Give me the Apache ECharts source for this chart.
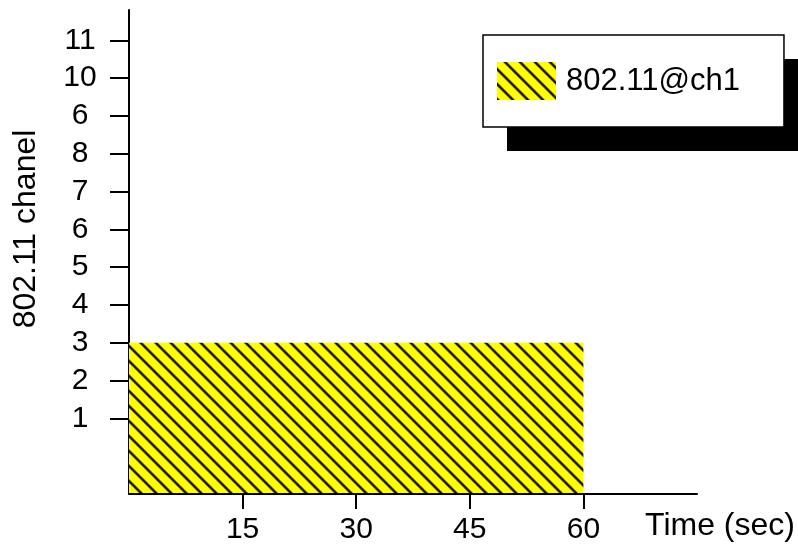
<!DOCTYPE html>
<html>
<head>
<meta charset="utf-8">
<script src="https://cdn.jsdelivr.net/npm/echarts@6/dist/echarts.min.js"></script>
<style>
  html, body { margin: 0; padding: 0; background: #fff; }
  #chart { width: 798px; height: 545px; }
</style>
</head>
<body>
<div id="chart"></div>
<script>
// Channel occupancy over time
const seriesName = '802.11@ch1';
const segStart = [0];     // seconds
const segEnd = [60];      // seconds
const segChannel = [3];   // channel level reached
const channelTicks = [1, 2, 3, 4, 5, 6, 7, 8, 9, 10, 11];
const channelLabels = ['1', '2', '3', '4', '5', '6', '7', '8', '6', '10', '11'];
const timeTicks = [15, 30, 45, 60];
const timeLabels = ['15', '30', '45', '60'];
const xTitle = 'Time (sec)';
const yTitle = '802.11 chanel';

const X_MIN = 0, X_MAX = 75;
const Y_MIN = -1, Y_MAX = 11.8;
const FONT = '"Liberation Sans", Arial, Helvetica, sans-serif';

// Yellow tile with soft black diagonal stripes
function makeHatch() {
  const n = 15;
  const c = document.createElement('canvas');
  c.width = n; c.height = n;
  const ctx = c.getContext('2d');
  const img = ctx.createImageData(n, n);
  for (let y = 0; y < n; y++) {
    for (let x = 0; x < n; x++) {
      const t = (((x - y - 8) % n) + n) % n;
      const d = Math.min(t, n - t) / Math.SQRT2;
      const a = Math.max(0, Math.min(1, (2.0 - d) / 1.5));
      const i = (y * n + x) * 4;
      img.data[i] = Math.round(255 * (1 - a) + 15 * a);
      img.data[i + 1] = Math.round(255 * (1 - a) + 15 * a);
      img.data[i + 2] = 0;
      img.data[i + 3] = 255;
    }
  }
  ctx.putImageData(img, 0, 0);
  return c;
}
const hatch = { image: makeHatch(), repeat: 'repeat' };

const chart = echarts.init(document.getElementById('chart'), null, { renderer: 'canvas' });

const option = {
  animation: false,
  grid: { left: 129, right: 101, top: 10, bottom: 51 },
  xAxis: {
    type: 'value', min: X_MIN, max: X_MAX, z: 5,
    axisLine: { show: true, onZero: false, lineStyle: { color: '#000', width: 2 } },
    axisTick: { show: true, length: 15, customValues: timeTicks, lineStyle: { color: '#000', width: 2 } },
    axisLabel: {
      customValues: timeTicks,
      formatter: v => timeLabels[timeTicks.indexOf(v)],
      margin: 21, color: '#000', fontFamily: FONT, fontSize: 30
    },
    splitLine: { show: false }
  },
  yAxis: {
    type: 'value', min: Y_MIN, max: Y_MAX,
    axisLine: { show: true, onZero: false, lineStyle: { color: '#000', width: 2 } },
    axisTick: { show: true, length: 19, customValues: channelTicks, lineStyle: { color: '#000', width: 2 } },
    axisLabel: {
      customValues: channelTicks,
      formatter: v => channelLabels[channelTicks.indexOf(v)],
      align: 'center', margin: 49, color: '#000', fontFamily: FONT, fontSize: 30
    },
    splitLine: { show: false }
  },
  legend: {
    left: 483, top: 35,
    padding: [27, 44, 27, 14],
    itemWidth: 59, itemHeight: 38, icon: 'rect',
    backgroundColor: '#fff', borderColor: '#000', borderWidth: 1.5, borderRadius: 0,
    selectedMode: false,
    textStyle: { fontSize: 31, fontFamily: FONT, color: '#000', padding: [0, 0, 0, 5] },
    itemStyle: { color: hatch },
    data: [{ name: seriesName, icon: 'rect', itemStyle: { color: hatch } }]
  },
  graphic: [
    { type: 'rect', z: 3, shape: { x: 507, y: 59, width: 300, height: 92 }, style: { fill: '#000' } },
    {
      type: 'text', x: 26, y: 229, rotation: Math.PI / 2,
      style: { text: yTitle, fontSize: 32, fontFamily: FONT, fill: '#000', align: 'center', verticalAlign: 'middle' }
    },
    {
      type: 'text', x: 720, y: 526,
      style: { text: xTitle, fontSize: 32, fontFamily: FONT, fill: '#000', align: 'center', verticalAlign: 'middle' }
    }
  ],
  series: [{
    type: 'custom',
    name: seriesName,
    itemStyle: { color: hatch },
    data: segStart.map((s, i) => [s, segEnd[i], segChannel[i]]),
    encode: { x: [0, 1], y: 2 },
    renderItem: (params, api) => {
      const p0 = api.coord([api.value(0), api.value(2)]);
      const p1 = api.coord([api.value(1), Y_MIN]);
      return {
        type: 'rect',
        shape: { x: p0[0], y: p0[1], width: p1[0] - p0[0], height: p1[1] - p0[1] },
        style: { fill: hatch }
      };
    }
  }]
};

chart.setOption(option);
</script>
</body>
</html>
